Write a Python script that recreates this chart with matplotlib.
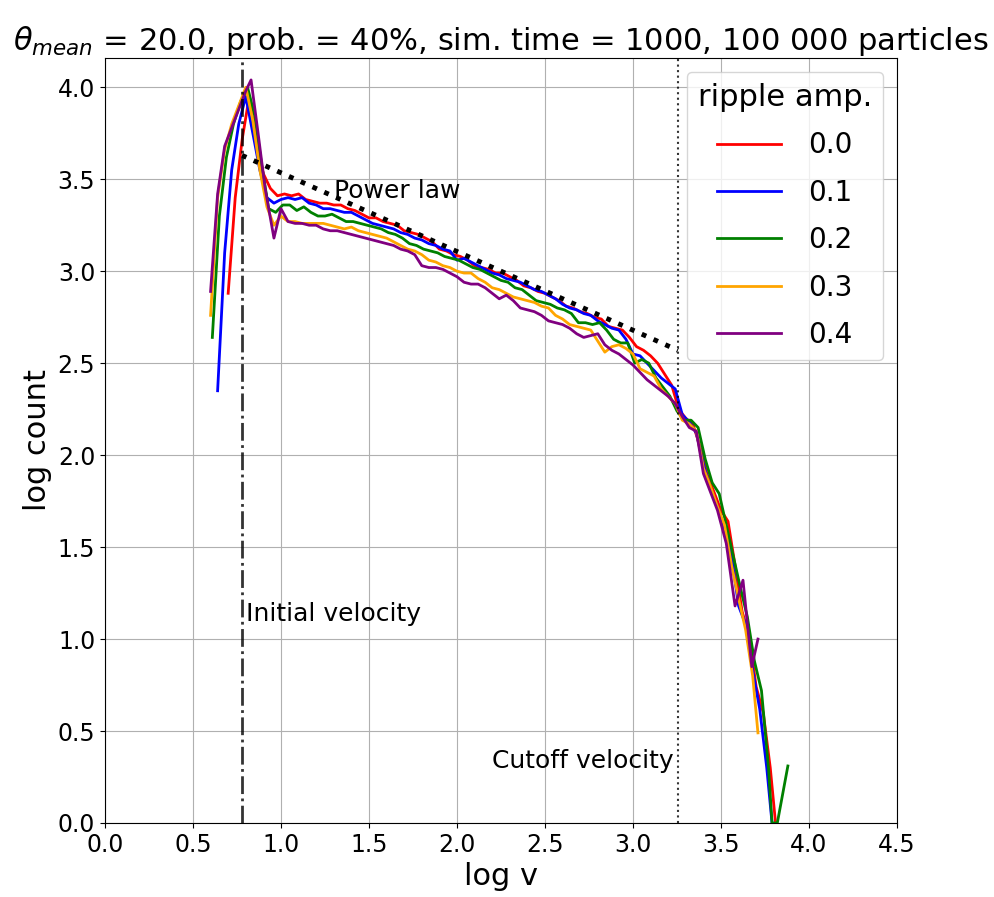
import matplotlib
matplotlib.use("Agg")
import matplotlib.pyplot as plt
import numpy as np

# log v bins and log count, one list per ripple amplitude
x_00 = [0.70, 0.74, 0.78, 0.82, 0.86, 0.90, 0.94, 0.98, 1.02, 1.06, 1.10, 1.14, 1.18, 1.22, 1.26,
        1.30, 1.34, 1.38, 1.42, 1.46, 1.50, 1.54, 1.58, 1.62, 1.66, 1.70, 1.74, 1.78, 1.82, 1.86,
        1.90, 1.94, 1.98, 2.02, 2.06, 2.10, 2.14, 2.18, 2.22, 2.26, 2.30, 2.34, 2.38, 2.42, 2.46,
        2.50, 2.54, 2.58, 2.62, 2.66, 2.70, 2.74, 2.78, 2.82, 2.86, 2.90, 2.94, 2.98, 3.02, 3.06,
        3.10, 3.14, 3.18, 3.22, 3.26, 3.30, 3.34, 3.38, 3.42, 3.46, 3.50, 3.54, 3.58, 3.62, 3.66,
        3.70, 3.74, 3.78, 3.81]
y_00 = [2.88, 3.40, 3.72, 3.95, 3.70, 3.53, 3.45, 3.41, 3.42, 3.41, 3.42, 3.39, 3.38, 3.37, 3.37,
        3.36, 3.36, 3.34, 3.33, 3.31, 3.29, 3.29, 3.27, 3.26, 3.25, 3.22, 3.21, 3.20, 3.18, 3.16,
        3.12, 3.11, 3.09, 3.08, 3.06, 3.03, 3.02, 3.01, 2.99, 2.99, 2.97, 2.95, 2.92, 2.91, 2.89,
        2.88, 2.86, 2.84, 2.81, 2.80, 2.78, 2.77, 2.75, 2.74, 2.70, 2.69, 2.68, 2.64, 2.59, 2.57,
        2.54, 2.50, 2.44, 2.38, 2.25, 2.20, 2.17, 2.05, 1.90, 1.80, 1.70, 1.64, 1.40, 1.15, 1.02,
        0.74, 0.60, 0.30, 0.00]

x_01 = [0.64, 0.68, 0.72, 0.76, 0.80, 0.84, 0.88, 0.92, 0.96, 1.00, 1.04, 1.08, 1.12, 1.16, 1.20,
        1.24, 1.28, 1.32, 1.36, 1.40, 1.44, 1.48, 1.52, 1.56, 1.60, 1.64, 1.68, 1.72, 1.76, 1.80,
        1.84, 1.88, 1.92, 1.96, 2.00, 2.04, 2.08, 2.12, 2.16, 2.20, 2.24, 2.28, 2.32, 2.36, 2.40,
        2.44, 2.48, 2.52, 2.56, 2.60, 2.64, 2.68, 2.72, 2.76, 2.80, 2.84, 2.88, 2.92, 2.96, 3.00,
        3.04, 3.08, 3.12, 3.16, 3.20, 3.24, 3.28, 3.32, 3.36, 3.40, 3.44, 3.48, 3.52, 3.56, 3.60,
        3.64, 3.68, 3.72, 3.76, 3.79]
y_01 = [2.35, 3.10, 3.55, 3.80, 3.95, 3.75, 3.55, 3.40, 3.37, 3.39, 3.40, 3.39, 3.40, 3.37, 3.36,
        3.34, 3.34, 3.33, 3.32, 3.32, 3.30, 3.28, 3.26, 3.25, 3.24, 3.23, 3.21, 3.20, 3.18, 3.17,
        3.15, 3.14, 3.12, 3.11, 3.06, 3.07, 3.05, 3.03, 3.01, 2.99, 2.98, 2.96, 2.95, 2.94, 2.92,
        2.90, 2.89, 2.87, 2.85, 2.82, 2.80, 2.79, 2.77, 2.76, 2.73, 2.71, 2.69, 2.68, 2.63, 2.55,
        2.54, 2.50, 2.46, 2.42, 2.39, 2.36, 2.22, 2.18, 2.12, 1.95, 1.82, 1.72, 1.60, 1.45, 1.18,
        1.08, 0.83, 0.62, 0.30, 0.00]

x_02 = [0.61, 0.65, 0.69, 0.73, 0.77, 0.81, 0.85, 0.89, 0.93, 0.97, 1.01, 1.05, 1.09, 1.13, 1.17,
        1.21, 1.25, 1.29, 1.33, 1.37, 1.41, 1.45, 1.49, 1.53, 1.57, 1.61, 1.65, 1.69, 1.73, 1.77,
        1.81, 1.85, 1.89, 1.93, 1.97, 2.01, 2.05, 2.09, 2.13, 2.17, 2.21, 2.25, 2.29, 2.33, 2.37,
        2.41, 2.45, 2.49, 2.53, 2.57, 2.61, 2.65, 2.69, 2.73, 2.77, 2.81, 2.85, 2.89, 2.93, 2.97,
        3.01, 3.05, 3.09, 3.13, 3.17, 3.21, 3.25, 3.29, 3.33, 3.37, 3.41, 3.45, 3.49, 3.53, 3.57,
        3.61, 3.65, 3.69, 3.73, 3.77, 3.79, 3.82, 3.88]
y_02 = [2.64, 3.30, 3.62, 3.80, 3.92, 4.00, 3.85, 3.58, 3.34, 3.32, 3.36, 3.36, 3.33, 3.35, 3.32,
        3.30, 3.30, 3.31, 3.29, 3.27, 3.27, 3.26, 3.25, 3.24, 3.23, 3.21, 3.20, 3.18, 3.15, 3.14,
        3.12, 3.11, 3.10, 3.08, 3.07, 3.06, 3.04, 3.02, 3.01, 2.99, 2.97, 2.95, 2.94, 2.91, 2.90,
        2.87, 2.84, 2.83, 2.82, 2.80, 2.79, 2.77, 2.72, 2.72, 2.71, 2.72, 2.68, 2.63, 2.61, 2.61,
        2.50, 2.52, 2.50, 2.42, 2.37, 2.32, 2.24, 2.19, 2.19, 2.15, 1.98, 1.85, 1.79, 1.62, 1.45,
        1.28, 1.12, 0.88, 0.72, 0.30, 0.00, 0.00, 0.31]

x_03 = [0.60, 0.64, 0.68, 0.72, 0.76, 0.80, 0.84, 0.88, 0.92, 0.96, 1.00, 1.04, 1.08, 1.12, 1.16,
        1.20, 1.24, 1.28, 1.32, 1.36, 1.40, 1.44, 1.48, 1.52, 1.56, 1.60, 1.64, 1.68, 1.72, 1.76,
        1.80, 1.84, 1.88, 1.92, 1.96, 2.00, 2.04, 2.08, 2.12, 2.16, 2.20, 2.24, 2.28, 2.32, 2.36,
        2.40, 2.44, 2.48, 2.52, 2.56, 2.60, 2.64, 2.68, 2.72, 2.76, 2.80, 2.84, 2.88, 2.92, 2.96,
        3.00, 3.04, 3.08, 3.12, 3.16, 3.20, 3.24, 3.28, 3.32, 3.36, 3.40, 3.44, 3.48, 3.52, 3.56,
        3.60, 3.64, 3.68, 3.71]
y_03 = [2.76, 3.40, 3.66, 3.80, 3.90, 4.00, 3.82, 3.55, 3.35, 3.25, 3.30, 3.27, 3.27, 3.26, 3.26,
        3.26, 3.26, 3.25, 3.24, 3.23, 3.24, 3.22, 3.21, 3.20, 3.19, 3.18, 3.16, 3.14, 3.12, 3.11,
        3.09, 3.06, 3.05, 3.03, 3.02, 3.00, 2.99, 2.99, 2.96, 2.94, 2.91, 2.90, 2.88, 2.86, 2.85,
        2.84, 2.83, 2.81, 2.80, 2.76, 2.74, 2.71, 2.70, 2.69, 2.68, 2.62, 2.56, 2.59, 2.60, 2.58,
        2.55, 2.47, 2.45, 2.43, 2.36, 2.32, 2.28, 2.19, 2.17, 2.13, 1.93, 1.83, 1.72, 1.62, 1.40,
        1.22, 1.05, 0.80, 0.49]

x_04 = [0.60, 0.64, 0.68, 0.72, 0.76, 0.80, 0.83, 0.87, 0.91, 0.96, 1.00, 1.04, 1.08, 1.12, 1.16,
        1.20, 1.24, 1.28, 1.32, 1.36, 1.40, 1.44, 1.48, 1.52, 1.56, 1.60, 1.64, 1.68, 1.72, 1.76,
        1.80, 1.84, 1.88, 1.92, 1.96, 2.00, 2.04, 2.08, 2.12, 2.16, 2.20, 2.24, 2.28, 2.32, 2.36,
        2.40, 2.44, 2.48, 2.52, 2.56, 2.60, 2.64, 2.68, 2.72, 2.76, 2.80, 2.84, 2.88, 2.92, 2.96,
        3.00, 3.04, 3.08, 3.12, 3.16, 3.20, 3.24, 3.28, 3.32, 3.36, 3.40, 3.44, 3.48, 3.53, 3.58,
        3.625, 3.675, 3.71]
y_04 = [2.89, 3.42, 3.68, 3.78, 3.88, 3.98, 4.04, 3.75, 3.45, 3.18, 3.34, 3.27, 3.26, 3.26, 3.25,
        3.25, 3.23, 3.22, 3.22, 3.21, 3.20, 3.19, 3.18, 3.17, 3.16, 3.15, 3.14, 3.12, 3.11, 3.09,
        3.03, 3.02, 3.02, 3.01, 2.99, 2.97, 2.94, 2.93, 2.93, 2.91, 2.88, 2.85, 2.87, 2.84, 2.80,
        2.79, 2.78, 2.76, 2.73, 2.72, 2.71, 2.69, 2.66, 2.64, 2.65, 2.66, 2.60, 2.57, 2.55, 2.52,
        2.49, 2.45, 2.41, 2.38, 2.35, 2.32, 2.28, 2.21, 2.15, 2.13, 1.90, 1.80, 1.70, 1.52, 1.18,
        1.32, 0.85, 1.00]

series = [("0.0", "red", x_00, y_00), ("0.1", "blue", x_01, y_01), ("0.2", "green", x_02, y_02),
          ("0.3", "orange", x_03, y_03), ("0.4", "purple", x_04, y_04)]

log_v_init = np.log10(6)
log_v_cut = np.log10(1800)
power_x = [log_v_init, log_v_cut]
power_y = [3.63, 2.57]

fig = plt.figure(figsize=(9.95, 8.97), dpi=100)
ax = fig.add_axes([0.1055, 0.0825, 0.796, 0.853])

for lbl, col, xs, ys in series:
    ax.plot(xs, ys, color=col, lw=2, label=lbl)

ax.plot(power_x, power_y, color='k', ls=':', lw=3.5, zorder=4)
ax.axvline(log_v_init, color='k', ls='-.', lw=2, alpha=0.8)
ax.axvline(log_v_cut, color='k', ls=':', lw=1.5, alpha=0.8)

ax.text(1.3, 3.4, "Power law", fontsize=18)
ax.text(0.8, 1.1, "Initial velocity", fontsize=18)
ax.text(2.2, 0.3, "Cutoff velocity", fontsize=18)

ax.set_xlim(0, 4.5)
ax.set_ylim(0, 4.16)
ax.set_xticks(np.arange(0, 4.51, 0.5))
ax.set_yticks(np.arange(0, 4.01, 0.5))
ax.tick_params(labelsize=17)
ax.grid(True)

ax.set_xlabel("log v", fontsize=22)
ax.set_ylabel("log count", fontsize=22)
ax.set_title(r"$\theta_{mean}$ = 20.0, prob. = 40%, sim. time = 1000, 100 000 particles", fontsize=22)
ax.legend(title="ripple amp.", loc="upper right", fontsize=20, title_fontsize=22,
          labelspacing=0.7, handlelength=2.3, handletextpad=1.0)

fig.savefig("out.png", dpi=100)
